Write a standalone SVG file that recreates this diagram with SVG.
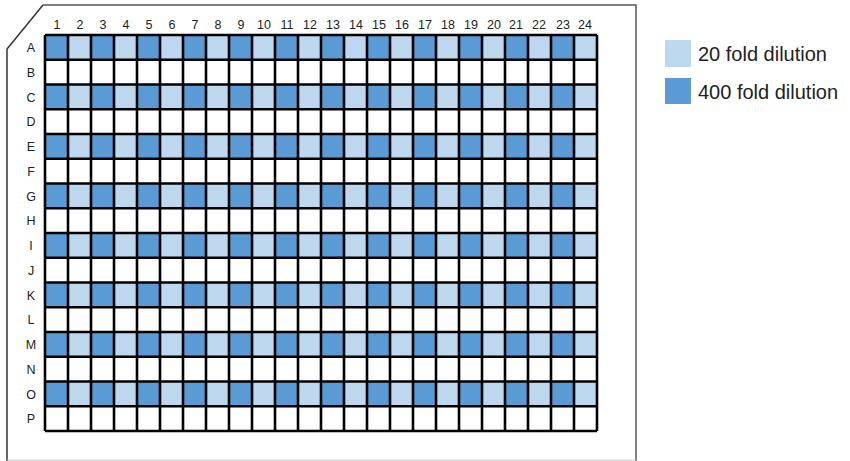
<svg xmlns="http://www.w3.org/2000/svg" xmlns:xlink="http://www.w3.org/1999/xlink" width="850" height="461" viewBox="0 0 850 461">
<style>
.d{fill:#5b9bd5}
.l{fill:#bdd7ee}
.lbl{font-family:"Liberation Sans",Arial,sans-serif;font-size:12.5px;fill:#222;text-anchor:middle}
.leg{font-family:"Liberation Sans",Arial,sans-serif;font-size:20px;fill:#222}
.grid{stroke:#000;stroke-width:2.6;fill:none}
</style>
<defs>
<g id="crow">
<rect class="d" x="45" y="0" width="23" height="24.75"/><rect class="l" x="68" y="0" width="23" height="24.75"/>
<rect class="d" x="91" y="0" width="23" height="24.75"/><rect class="l" x="114" y="0" width="23" height="24.75"/>
<rect class="d" x="137" y="0" width="23" height="24.75"/><rect class="l" x="160" y="0" width="23" height="24.75"/>
<rect class="d" x="183" y="0" width="23" height="24.75"/><rect class="l" x="206" y="0" width="23" height="24.75"/>
<rect class="d" x="229" y="0" width="23" height="24.75"/><rect class="l" x="252" y="0" width="23" height="24.75"/>
<rect class="d" x="275" y="0" width="23" height="24.75"/><rect class="l" x="298" y="0" width="23" height="24.75"/>
<rect class="d" x="321" y="0" width="23" height="24.75"/><rect class="l" x="344" y="0" width="23" height="24.75"/>
<rect class="d" x="367" y="0" width="23" height="24.75"/><rect class="l" x="390" y="0" width="23" height="24.75"/>
<rect class="d" x="413" y="0" width="23" height="24.75"/><rect class="l" x="436" y="0" width="23" height="24.75"/>
<rect class="d" x="459" y="0" width="23" height="24.75"/><rect class="l" x="482" y="0" width="23" height="24.75"/>
<rect class="d" x="505" y="0" width="23" height="24.75"/><rect class="l" x="528" y="0" width="23" height="24.75"/>
<rect class="d" x="551" y="0" width="23" height="24.75"/><rect class="l" x="574" y="0" width="23" height="24.75"/>
</g>
</defs>
<g id="plate-outline">
<path d="M43,5 L636,5 L636,461" fill="none" stroke="#555" stroke-width="1.5"/>
<path d="M43,5 L7,49 L7,461" fill="none" stroke="#333" stroke-width="1.5"/>
<path d="M7,460 L636,460" fill="none" stroke="#ccc" stroke-width="1.2"/>
</g>
<g id="wells">
<use xlink:href="#crow" y="35"/>
<use xlink:href="#crow" y="84.5"/>
<use xlink:href="#crow" y="134"/>
<use xlink:href="#crow" y="183.5"/>
<use xlink:href="#crow" y="233"/>
<use xlink:href="#crow" y="282.5"/>
<use xlink:href="#crow" y="332"/>
<use xlink:href="#crow" y="381.5"/>
</g>
<g id="grid">
<path class="grid" d="M45,35V431M68,35V431M91,35V431M114,35V431M137,35V431M160,35V431M183,35V431M206,35V431M229,35V431M252,35V431M275,35V431M298,35V431M321,35V431M344,35V431M367,35V431M390,35V431M413,35V431M436,35V431M459,35V431M482,35V431M505,35V431M528,35V431M551,35V431M574,35V431M597,35V431"/>
<path class="grid" d="M45,35H597M45,59.75H597M45,84.5H597M45,109.25H597M45,134H597M45,158.75H597M45,183.5H597M45,208.25H597M45,233H597M45,257.75H597M45,282.5H597M45,307.25H597M45,332H597M45,356.75H597M45,381.5H597M45,406.25H597M45,431H597"/>
</g>
<g id="column-labels" class="lbl">
<text x="57" y="29">1</text><text x="80" y="29">2</text><text x="103" y="29">3</text><text x="126" y="29">4</text>
<text x="149" y="29">5</text><text x="172" y="29">6</text><text x="195" y="29">7</text><text x="218" y="29">8</text>
<text x="241" y="29">9</text><text x="264" y="29">10</text><text x="287" y="29">11</text><text x="310" y="29">12</text>
<text x="333" y="29">13</text><text x="356" y="29">14</text><text x="379" y="29">15</text><text x="402" y="29">16</text>
<text x="425" y="29">17</text><text x="448" y="29">18</text><text x="471" y="29">19</text><text x="494" y="29">20</text>
<text x="516" y="29">21</text><text x="539" y="29">22</text><text x="563" y="29">23</text><text x="585" y="29">24</text>
</g>
<g id="row-labels" class="lbl">
<text x="31" y="52">A</text><text x="31" y="76.75">B</text><text x="31" y="101.5">C</text><text x="31" y="126.25">D</text>
<text x="31" y="151">E</text><text x="31" y="175.75">F</text><text x="31" y="200.5">G</text><text x="31" y="225.25">H</text>
<text x="31" y="250">I</text><text x="31" y="274.75">J</text><text x="31" y="299.5">K</text><text x="31" y="324.25">L</text>
<text x="31" y="349">M</text><text x="31" y="373.75">N</text><text x="31" y="398.5">O</text><text x="31" y="423.25">P</text>
</g>
<g id="legend-20">
<rect class="l" x="665" y="40" width="26" height="27"/>
<text class="leg" x="698" y="61">20 fold dilution</text>
</g>
<g id="legend-400">
<rect class="d" x="665" y="78" width="26" height="26"/>
<text class="leg" x="698" y="99">400 fold dilution</text>
</g>
</svg>
